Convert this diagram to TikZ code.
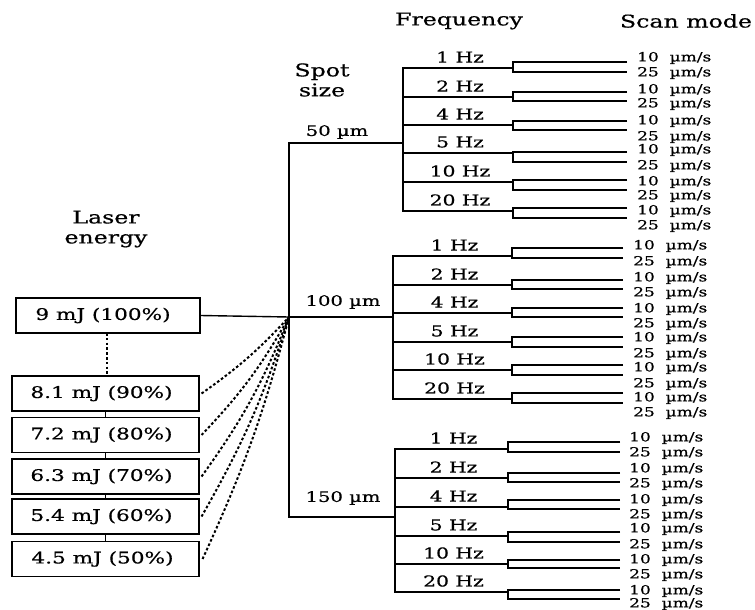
\documentclass[tikz,border=0pt]{standalone}
\usepackage{fontspec}
\setmainfont{DejaVu Serif}[FakeStretch=1.35, FakeBold=0.6]
\newcommand\hdfont{\fontsize{17.5}{20}\selectfont}
\newcommand\hzfont{\fontsize{15}{17}\selectfont}
\newcommand\spfont{\fontsize{14.5}{17}\selectfont}
\newcommand\smfont{\fontsize{12.6}{14}\selectfont}
\newcommand\bxfont{\fontsize{16}{18}\selectfont}
\tikzset{
  tree/.style={line width=1.4pt, line cap=rect},
  brk/.style={line width=1.2pt},
  ebox/.style={draw, line width=1.1pt, minimum width=187pt, minimum height=35pt, inner sep=0pt, font=\bxfont},
  dotline/.style={line width=2pt, dash pattern=on 2.6pt off 2.2pt},
  hd/.style={font=\hdfont, inner sep=0pt, align=center},
  hzlab/.style={font=\hzfont, inner sep=0pt},
  splab/.style={font=\spfont, inner sep=0pt},
  smlab/.style={font=\smfont, inner sep=0pt, anchor=west},
}
\newcommand\freqgroup[6]{%
  \foreach \yf/\u/\l/\a/\b/\hz [count=\i] in {#6} {
    \coordinate (#1fa\i) at (#2,\yf);
    \coordinate (#1fb\i) at (#3,\yf);
    \coordinate (#1bu\i) at (#3,\u);
    \coordinate (#1bl\i) at (#3,\l);
    \coordinate (#1eu\i) at (#4,\u);
    \coordinate (#1el\i) at (#4,\l);
    \draw[tree] (#1fa\i) -- (#1fb\i);
    \draw[brk] (#1eu\i) -- (#1bu\i) -- (#1bl\i) -- (#1el\i);
    \node[hzlab] (#1hz\i) at ({(#2+#3)/2+2},\yf-11) {\hz\ Hz};
    \node[smlab] (#1sa\i) at (#5,\a) {10\ \ µm/s};
    \node[smlab] (#1sb\i) at (#5,\b) {25\ \ µm/s};
  }
}
\begin{document}
\begin{tikzpicture}[x=1pt, y=-1pt]
\useasboundingbox (0,0) rectangle (755,610);

% headers
\node[hd] (hfreq) at (459,21) {Frequency};
\node[hd] (hscan) at (686,21) {Scan mode};
\node[hd] (hspot) at (322,80) {Spot\\[0pt]size};
\node[hd] (hlaser) at (106,229) {Laser\\[0pt]energy};

% energy boxes
\node[ebox, minimum width=184pt] (e100) at (108,315.5) {9 mJ (100\%)\hspace*{10pt}};
\node[ebox] (e90) at (105.5,393.5) {8.1 mJ (90\%)\hspace*{8pt}};
\node[ebox] (e80) at (105.5,435) {7.2 mJ (80\%)\hspace*{8pt}};
\node[ebox] (e70) at (105.5,476.5) {6.3 mJ (70\%)\hspace*{8pt}};
\node[ebox] (e60) at (105.5,516.5) {5.4 mJ (60\%)\hspace*{8pt}};
\node[ebox] (e50) at (105.5,559) {4.5 mJ (50\%)\hspace*{6pt}};

\coordinate (d1) at (107,333);
\coordinate (d2) at (107,376);
\draw[dotline] (d1) -- (d2);
\draw[line width=0.9pt] (e90.south) -- (e80.north);
\draw[line width=0.9pt] (e80.south) -- (e70.north);
\draw[line width=0.9pt] (e70.south) -- (e60.north);
\draw[line width=0.9pt] (e60.south) -- (e50.north);

% hub and spot size tree
\coordinate (hub) at (289,317);
\coordinate (s50) at (289,143);
\coordinate (s150) at (289,517);
\coordinate (v50) at (403,143);
\coordinate (v100) at (393,317);
\coordinate (v150) at (395,517);

\draw[dotline] ([xshift=2pt]e90.east) to[bend right=6] (hub);
\draw[dotline] ([xshift=2pt]e80.east) to[bend right=7] (hub);
\draw[dotline] ([xshift=2pt]e70.east) to[bend right=7] (hub);
\draw[dotline] ([xshift=2pt]e60.east) to[bend right=6] (hub);
\draw[dotline] ([xshift=3pt]e50.east) to[bend right=5] (hub);

\draw[tree] (e100.east) -- (hub);
\draw[tree] (s50) -- (s150);
\draw[tree] (s50) -- (v50);
\draw[tree] (hub) -- (v100);
\draw[tree] (s150) -- (v150);

\node[splab] (l50) at (337,132) {50 µm};
\node[splab] (l100) at (343,302) {100 µm};
\node[splab] (l150) at (343,498) {150 µm};

% frequency verticals
\coordinate (t50) at (403,68);  \coordinate (b50) at (403,211);
\coordinate (t100) at (393,256); \coordinate (b100) at (393,399);
\coordinate (t150) at (395,449); \coordinate (b150) at (395,592);
\draw[tree] (t50) -- (b50);
\draw[tree] (t100) -- (b100);
\draw[tree] (t150) -- (b150);

\freqgroup{a}{403}{513}{627}{637}{68/62/72/58/73/1, 97/92/101/90/104/2, 125/121/130/121/137/4, 153/152/162/150/166/5, 182/180/190/182/196/10, 211/208/218/211/226/20}
\freqgroup{b}{393}{512}{623}{633}{256/248/258/246/262/1, 285/280/289/278/293/2, 313/308/317/309/324/4, 342/337/347/338/354/5, 370/365/375/368/384/10, 399/393/403/398/413/20}
\freqgroup{c}{395}{508}{620}{629}{449/442/452/438/453/1, 478/473/482/469/484/2, 507/500/509/500/515/4, 536/532/542/529/545/5, 564/560/568/560/575/10, 592/590/599/591/604/20}
\end{tikzpicture}
\end{document}
